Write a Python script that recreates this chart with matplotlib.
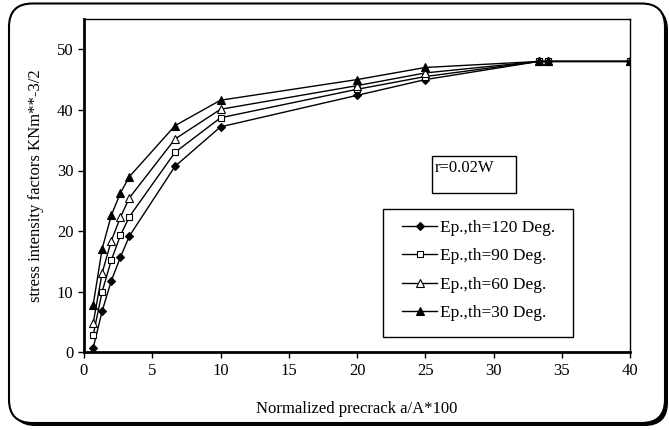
import matplotlib
matplotlib.use("Agg")
import matplotlib.pyplot as plt
from matplotlib.patches import FancyBboxPatch, Rectangle

plt.rcParams['font.family'] = ['Liberation Serif', 'DejaVu Serif']

x = [0.67, 1.33, 2.0, 2.67, 3.33, 6.67, 10, 20, 25, 33.33, 34, 40]
th120 = [0.7, 6.8, 11.8, 15.7, 19.2, 30.7, 37.2, 42.4, 45.0, 48.0, 48.0, 48.0]
th90 = [2.8, 10.0, 15.2, 19.3, 22.4, 33.0, 38.7, 43.4, 45.5, 48.0, 48.0, 48.0]
th60 = [4.8, 13.1, 18.4, 22.3, 25.5, 35.2, 40.1, 44.0, 46.1, 48.0, 48.0, 48.0]
th30 = [7.8, 17.1, 22.6, 26.3, 29.0, 37.4, 41.6, 45.0, 47.0, 48.0, 48.0, 48.0]
labels = ["Ep.,th=120 Deg.", "Ep.,th=90 Deg.", "Ep.,th=60 Deg.", "Ep.,th=30 Deg."]
xticks = [0, 5, 10, 15, 20, 25, 30, 35, 40]
yticks = [0, 10, 20, 30, 40, 50]

W, H = 669, 430
fig = plt.figure(figsize=(W / 100, H / 100), dpi=100)

def fx(p): return p / W
def fy(p): return 1 - p / H
shadow = FancyBboxPatch((fx(12), fy(426)), fx(656), (426 - 6.5) / H,
                        boxstyle="round,pad=0,rounding_size=0.035",
                        transform=fig.transFigure, facecolor='black', edgecolor='black',
                        lw=0, mutation_aspect=W / H, zorder=0)
frame = FancyBboxPatch((fx(9), fy(423)), fx(656), (423 - 3.5) / H,
                       boxstyle="round,pad=0,rounding_size=0.035",
                       transform=fig.transFigure, facecolor='white', edgecolor='black',
                       lw=1.5, mutation_aspect=W / H, zorder=1)
fig.patches.extend([shadow, frame])

ax = fig.add_axes([84 / W, (H - 352.3) / H, (630 - 84) / W, (352.3 - 19) / H])
ax.set_zorder(2)
ax.patch.set_alpha(0)

series = [th120, th90, th60, th30]
styles = [dict(marker='D', mfc='black', ms=4.5),
          dict(marker='s', mfc='white', ms=5),
          dict(marker='^', mfc='white', ms=6),
          dict(marker='^', mfc='black', ms=6)]
for y, lab, st in zip(series, labels, styles):
    ax.plot(x, y, color='black', lw=1, mec='black', mew=0.8, label=lab, **st)

ax.set_xlim(0, 40)
ax.set_ylim(0, 55)
ax.set_xticks(xticks)
ax.set_yticks(yticks)
ax.tick_params(direction='out', length=4, width=1, labelsize=12, colors='black')
for s in ['left', 'bottom']:
    ax.spines[s].set_linewidth(2)
for s in ['top', 'right']:
    ax.spines[s].set_linewidth(1)

ax.set_xlabel("Normalized precrack a/A*100", fontsize=12, labelpad=16)
ax.set_ylabel("stress intensity factors KNm**-3/2", fontsize=12, labelpad=9)

# legend frame drawn as a separate box
ax.add_patch(Rectangle((0.548, 0.046), 0.348, 0.384, transform=ax.transAxes,
                       facecolor='white', edgecolor='black', lw=1, zorder=3))
leg = ax.legend(loc='upper left', bbox_to_anchor=(0.582, 0.398), fontsize=12.5,
                frameon=False, handlelength=2.05, labelspacing=0.71, borderpad=0,
                handletextpad=0.15, borderaxespad=0)
leg.set_zorder(5)

ax.add_patch(Rectangle((0.637, 0.478), 0.154, 0.111, transform=ax.transAxes,
                       facecolor='white', edgecolor='black', lw=1, zorder=3))
ax.text(0.643, 0.576, "r=0.02W", transform=ax.transAxes, va='top', ha='left',
        fontsize=12, zorder=4)

fig.savefig("out.png", dpi=100)
